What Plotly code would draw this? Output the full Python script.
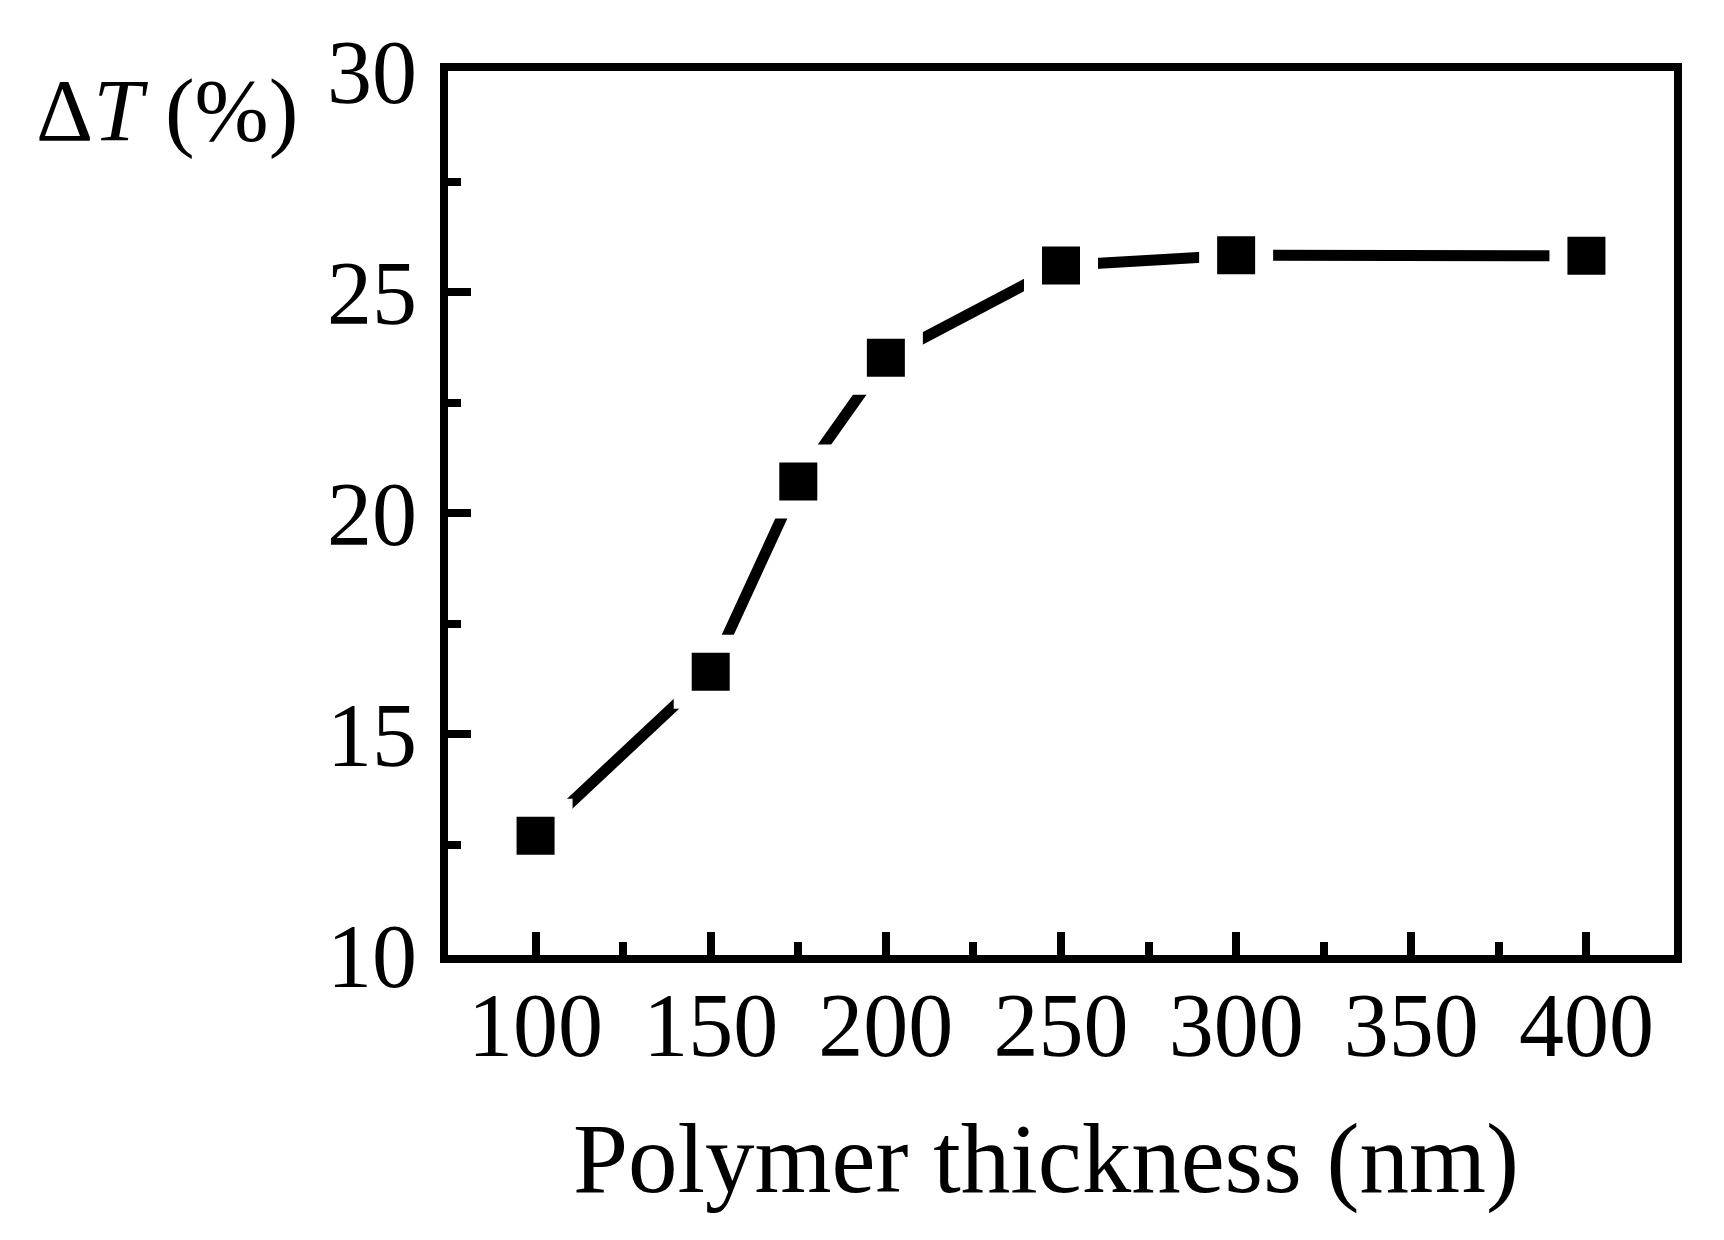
import plotly.graph_objects as go

# Data
thickness_nm = [100, 150, 175, 200, 250, 300, 400]
delta_T = [12.70, 16.41, 20.71, 23.51, 25.60, 25.83, 25.82]

x_tickvals = [100, 150, 200, 250, 300, 350, 400]
y_tickvals = [10, 15, 20, 25, 30]

FONT = "Liberation Serif"

fig = go.Figure()
fig.add_trace(go.Scatter(
    x=thickness_nm, y=delta_T,
    mode="lines+markers",
    line=dict(color="black", width=11),
    marker=dict(symbol="square", size=56, color="black",
                line=dict(color="white", width=18)),
    showlegend=False,
))

axis_common = dict(
    showline=True, linecolor="black", linewidth=8, mirror=True,
    showgrid=False, zeroline=False,
    ticks="inside", ticklen=23, tickwidth=8, tickcolor="black",
    tickfont=dict(family=FONT, size=90, color="black"),
)

fig.update_xaxes(
    range=[75, 425], tickmode="array", tickvals=x_tickvals,
    ticklabelstandoff=-15,
    minor=dict(dtick=25, tick0=75, ticks="inside", ticklen=13, tickwidth=8, tickcolor="black"),
    **axis_common,
)
fig.update_yaxes(
    range=[10, 30], tickmode="array", tickvals=y_tickvals,
    ticklabelstandoff=5,
    minor=dict(dtick=2.5, tick0=10, ticks="inside", ticklen=13, tickwidth=8, tickcolor="black"),
    **axis_common,
)

fig.add_annotation(
    text="Polymer thickness (nm)", xref="paper", yref="paper",
    x=0.4878, y=-0.2308, xanchor="center", yanchor="middle", showarrow=False,
    font=dict(family=FONT, size=99, color="black"),
)
fig.add_annotation(
    text="Δ<i>T</i> (%)", xref="paper", yref="paper",
    x=-0.2292, y=0.956, xanchor="center", yanchor="middle", showarrow=False,
    font=dict(family=FONT, size=89, color="black"),
)

fig.update_layout(
    width=1716, height=1232,
    margin=dict(l=440, r=50, t=63, b=285, pad=0),
    paper_bgcolor="white", plot_bgcolor="white",
    font=dict(family=FONT, color="black"),
)

fig.write_html("out.html")
